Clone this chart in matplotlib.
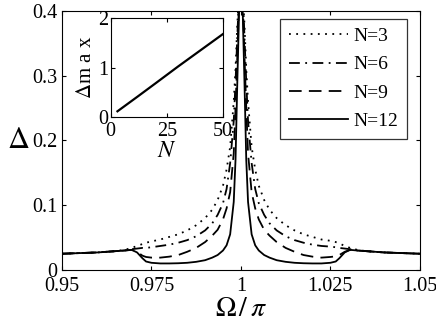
import matplotlib
matplotlib.use("Agg")
import matplotlib.pyplot as plt

plt.rcParams['font.family'] = ['Liberation Serif', 'DejaVu Serif']
plt.rcParams['mathtext.fontset'] = 'stix'

# Omega/pi sample positions
omega = [0.95, 0.955, 0.96, 0.965, 0.9675, 0.9695, 0.971, 0.9725, 0.9735, 0.975,
         0.9775, 0.98, 0.9825, 0.985, 0.9875, 0.99, 0.992, 0.9935, 0.995, 0.996,
         0.997, 0.998, 0.9985, 0.999, 0.9995, 1.0,
         1.0005, 1.001, 1.0015, 1.002, 1.003, 1.004, 1.005, 1.0065, 1.008, 1.01,
         1.0125, 1.015, 1.0175, 1.02, 1.0225, 1.025, 1.0265, 1.0275, 1.029, 1.0305,
         1.0325, 1.035, 1.04, 1.045, 1.05]

delta_n3 = [0.025, 0.026, 0.027, 0.029, 0.031, 0.034, 0.037, 0.040, 0.042, 0.044,
            0.047, 0.051, 0.055, 0.061, 0.069, 0.080, 0.093, 0.108, 0.130, 0.155,
            0.190, 0.260, 0.310, 0.380, 0.430, 0.46,
            0.430, 0.380, 0.310, 0.260, 0.190, 0.155, 0.130, 0.108, 0.093, 0.080,
            0.069, 0.061, 0.055, 0.051, 0.047, 0.045, 0.043, 0.041, 0.037, 0.034,
            0.031, 0.029, 0.027, 0.026, 0.025]
delta_n6 = [0.025, 0.026, 0.027, 0.029, 0.030, 0.032, 0.033, 0.034, 0.034, 0.035,
            0.037, 0.039, 0.042, 0.046, 0.052, 0.061, 0.072, 0.085, 0.103, 0.125,
            0.165, 0.230, 0.290, 0.360, 0.430, 0.46,
            0.430, 0.360, 0.290, 0.230, 0.165, 0.125, 0.103, 0.085, 0.072, 0.061,
            0.052, 0.046, 0.042, 0.039, 0.037, 0.036, 0.035, 0.034, 0.033, 0.032,
            0.030, 0.029, 0.027, 0.026, 0.025]
delta_n9 = [0.025, 0.026, 0.027, 0.029, 0.030, 0.031, 0.028, 0.022, 0.020, 0.019,
            0.019, 0.0205, 0.023, 0.028, 0.034, 0.043, 0.053, 0.062, 0.078, 0.095,
            0.120, 0.180, 0.250, 0.330, 0.420, 0.46,
            0.420, 0.330, 0.250, 0.180, 0.120, 0.095, 0.078, 0.062, 0.053, 0.043,
            0.034, 0.028, 0.023, 0.0205, 0.019, 0.020, 0.021, 0.023, 0.028, 0.031,
            0.030, 0.029, 0.027, 0.026, 0.025]
delta_n12 = [0.025, 0.026, 0.027, 0.029, 0.030, 0.031, 0.027, 0.018, 0.013, 0.011,
             0.010, 0.010, 0.0103, 0.011, 0.0125, 0.015, 0.019, 0.023, 0.030, 0.038,
             0.055, 0.105, 0.170, 0.290, 0.400, 0.46,
             0.400, 0.290, 0.170, 0.105, 0.055, 0.038, 0.030, 0.023, 0.019, 0.015,
             0.0125, 0.011, 0.0103, 0.010, 0.010, 0.011, 0.013, 0.018, 0.027, 0.031,
             0.030, 0.029, 0.027, 0.026, 0.025]

labels = ['N=3', 'N=6', 'N=9', 'N=12']
styles = [(0, (1, 3)), (0, (6, 3, 1, 3)), (0, (7, 4)), '-']

# inset: maximum versus N
n_vals = [3, 6, 9, 12, 20, 30, 40, 50]
dmax = [0.11, 0.21, 0.31, 0.41, 0.68, 1.02, 1.35, 1.68]

fig = plt.figure(figsize=(4.36, 3.32), dpi=100)
ax = fig.add_axes([0.142, 0.187, 0.821, 0.780])

for d, lab, ls in zip([delta_n3, delta_n6, delta_n9, delta_n12], labels, styles):
    ax.plot(omega, d, color='black', linestyle=ls, lw=1.3, label=lab)

ax.set_xlim(0.95, 1.05)
ax.set_ylim(0, 0.4)
ax.set_xticks([0.95, 0.975, 1.0, 1.025, 1.05])
ax.set_xticklabels(['0.95', '0.975', '1', '1.025', '1.05'])
ax.set_yticks([0, 0.1, 0.2, 0.3, 0.4])
ax.set_yticklabels(['0', '0.1', '0.2', '0.3', '0.4'])
ax.tick_params(direction='in', top=True, right=True, labelsize=14.5, length=3)
ax.tick_params(axis='x', pad=5)
ax.tick_params(axis='y', pad=3)
ax.set_xlabel(r'$\Omega\,/\,\pi$', fontsize=20, labelpad=1)
ax.set_ylabel(r'$\Delta$', fontsize=22, rotation=0, labelpad=10, va='center')

leg = ax.legend(loc='upper right', fontsize=14, frameon=True, fancybox=False,
                edgecolor='black', handlelength=3.0, handletextpad=0.3,
                borderpad=0.45, labelspacing=0.55, borderaxespad=0.2,
                bbox_to_anchor=(0.975, 0.985))
leg.get_frame().set_linewidth(0.9)

ins = fig.add_axes([0.254, 0.6485, 0.257, 0.296])
ins.plot(n_vals, dmax, color='black', lw=1.6)
ins.set_xlim(0, 50)
ins.set_ylim(0, 2)
ins.set_xticks([0, 25, 50])
ins.set_yticks([0, 1, 2])
ins.tick_params(direction='in', top=True, right=True, labelsize=14.5, length=3)
ins.tick_params(axis='x', pad=4)
ins.tick_params(axis='y', pad=2)
ins.set_xlabel(r'$N$', fontsize=17, labelpad=0)
ins.set_ylabel(r'$\Delta$m a x', fontsize=15, labelpad=1)

fig.savefig('out.png', dpi=100)
